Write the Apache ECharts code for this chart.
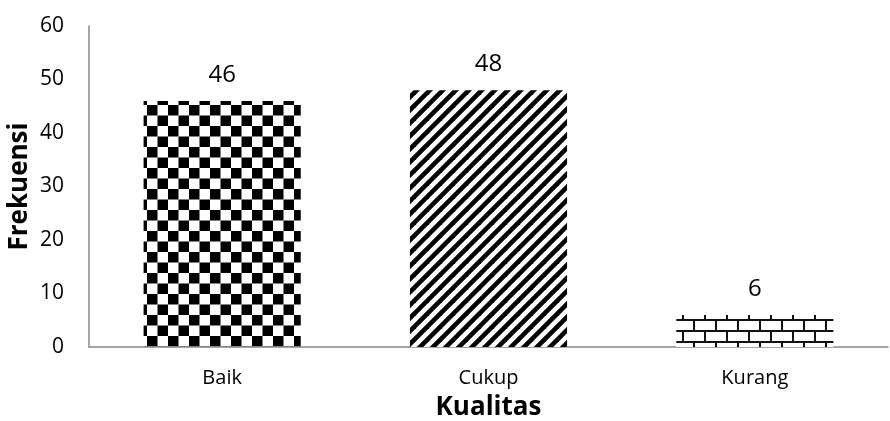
<!DOCTYPE html>
<html>
<head>
<meta charset="utf-8">
<script src="https://cdn.jsdelivr.net/npm/echarts@6/dist/echarts.min.js"></script>
<style>
html,body{margin:0;padding:0;background:#fff;}
#chart{width:890px;height:421px;}
</style>
</head>
<body>
<div id="chart"></div>
<script>
// Data
const categories = ['Baik', 'Cukup', 'Kurang'];
const frekuensi = [46, 48, 6];
const yTicks = [0, 10, 20, 30, 40, 50, 60];

// Fill patterns for the bars
function checkerPattern() {
  const s = 10.6;
  const c = document.createElement('canvas');
  c.width = Math.round(s * 2); c.height = Math.round(s * 2);
  const g = c.getContext('2d');
  g.fillStyle = '#fff'; g.fillRect(0, 0, c.width, c.height);
  g.fillStyle = '#000';
  g.fillRect(0, 0, c.width / 2, c.height / 2);
  g.fillRect(c.width / 2, c.height / 2, c.width / 2, c.height / 2);
  return c;
}
function stripePattern() {
  const p = 13;
  const c = document.createElement('canvas');
  c.width = p; c.height = p;
  const g = c.getContext('2d');
  g.fillStyle = '#fff'; g.fillRect(0, 0, p, p);
  g.strokeStyle = '#000'; g.lineWidth = 4.6;
  for (let k = -1; k <= 1; k++) {
    g.beginPath();
    g.moveTo(k * p - 2, p + 2);
    g.lineTo(k * p + p + 2, -2);
    g.stroke();
  }
  return c;
}
function brickPattern() {
  const w = 21.6, h = 10.8;
  const c = document.createElement('canvas');
  c.width = Math.round(w); c.height = Math.round(h * 2);
  const g = c.getContext('2d');
  g.fillStyle = '#fff'; g.fillRect(0, 0, c.width, c.height);
  g.fillStyle = '#111';
  const lw = 2;
  g.fillRect(0, 0, c.width, lw);
  g.fillRect(0, Math.round(h), c.width, lw);
  g.fillRect(0, 0, lw, Math.round(h));
  g.fillRect(Math.round(w / 2), Math.round(h), lw, Math.round(h));
  return c;
}

const patterns = [checkerPattern(), stripePattern(), brickPattern()];

const chart = echarts.init(document.getElementById('chart'), null, { renderer: 'canvas' });
const font = "'Open Sans', 'Liberation Sans', sans-serif";

chart.setOption({
  animation: false,
  backgroundColor: '#fff',
  grid: { left: 89, right: 2, top: 26, bottom: 74, containLabel: false, outerBoundsMode: 'none' },
  xAxis: {
    type: 'category',
    data: categories,
    name: 'Kualitas',
    nameLocation: 'middle',
    nameGap: 48,
    nameMoveOverlap: false,
    nameTextStyle: { fontFamily: font, fontSize: 26, fontWeight: 'bold', color: '#000' },
    axisLine: { lineStyle: { color: '#888', width: 1.5 } },
    axisTick: { show: false },
    axisLabel: { fontFamily: font, fontSize: 20, color: '#000', margin: 21 }
  },
  yAxis: {
    type: 'value',
    min: 0, max: 60, interval: 10,
    name: 'Frekuensi',
    nameLocation: 'middle',
    nameGap: 56,
    nameRotate: 90,
    nameMoveOverlap: false,
    nameTextStyle: { fontFamily: font, fontSize: 26, fontWeight: 'bold', color: '#000' },
    axisLine: { show: true, lineStyle: { color: '#888', width: 1.5 } },
    axisTick: { show: false },
    splitLine: { show: false },
    axisLabel: {
      fontFamily: font, fontSize: 21, color: '#000', margin: 25,
      formatter: v => (yTicks.indexOf(v) >= 0 ? String(v) : '')
    }
  },
  series: [{
    type: 'bar',
    barWidth: '59%',
    data: frekuensi.map((v, i) => ({
      value: v,
      itemStyle: { color: { image: patterns[i], repeat: 'repeat' } }
    })),
    label: {
      show: true, position: 'top', distance: 14,
      fontFamily: font, fontSize: 24, color: '#000'
    }
  }]
});
</script>
</body>
</html>
